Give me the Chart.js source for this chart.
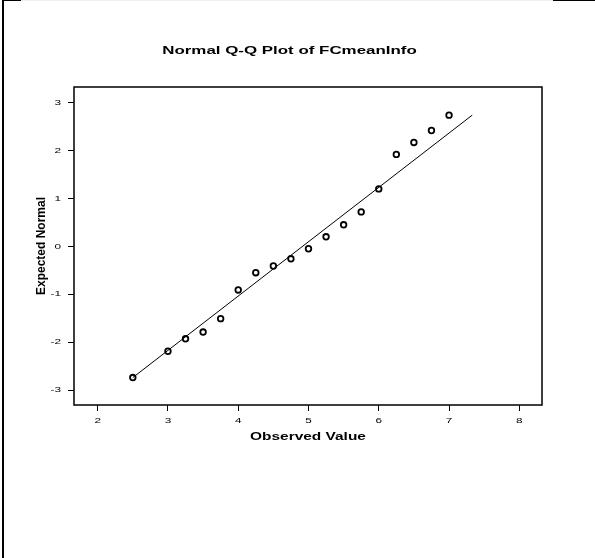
<!DOCTYPE html>
<html>
<head>
<meta charset="utf-8">
<title>Normal Q-Q Plot of FCmeanInfo</title>
<script src="https://cdn.jsdelivr.net/npm/chart.js@4.4.1/dist/chart.umd.min.js"></script>
<style>
  html, body { margin: 0; padding: 0; background: #fff; }
  #wrap { position: relative; width: 595px; height: 558px; overflow: hidden; background: #fff; }
  #qq { position: absolute; left: 0; top: 0; }
  .rule { position: absolute; background: #000; }
</style>
</head>
<body>
<div id="wrap">
  <canvas id="qq" width="595" height="558"></canvas>
  <div class="rule" style="left:2px;top:0;width:2px;height:558px"></div>
  <div class="rule" style="left:2px;top:0;width:19px;height:1px"></div>
  <div class="rule" style="left:21px;top:0;width:532px;height:1px;background:#f0f0f0"></div>
  <div class="rule" style="left:553px;top:0;width:42px;height:1px"></div>
</div>
<script>
// Text
const chartTitle = 'Normal Q-Q Plot of FCmeanInfo';
const xAxisTitle = 'Observed Value';
const yAxisTitle = 'Expected Normal';

// Observed values and their expected normal quantiles
const observedValues = [2.5, 3.0, 3.25, 3.5, 3.75, 4.0, 4.25, 4.5, 4.75, 5.0, 5.25, 5.5, 5.75, 6.0, 6.25, 6.5, 6.75, 7.0];
const expectedNormal = [-2.74, -2.19, -1.93, -1.79, -1.51, -0.91, -0.55, -0.41, -0.26, -0.05, 0.20, 0.45, 0.72, 1.20, 1.92, 2.17, 2.42, 2.74];

// Reference line end points
const refLineX = [2.5, 7.33];
const refLineY = [-2.74, 2.74];

// Tick values
const xTickValues = [2, 3, 4, 5, 6, 7, 8];
const yTickValues = [-3, -2, -1, 0, 1, 2, 3];

const FONT = "'Liberation Sans', Arial, Helvetica, sans-serif";
const WIDEN = 1.47;

// Horizontal lettering is drawn extended; rotated text keeps normal proportions.
const wideLettering = {
  id: 'wideLettering',
  beforeDraw(chart) {
    const ctx = chart.ctx;
    if (ctx.__wide) return;
    const base = ctx.fillText;
    ctx.fillText = function (text, x, y, maxWidth) {
      const m = this.getTransform();
      if (Math.abs(m.b) > 1e-6 || Math.abs(m.c) > 1e-6) {
        return maxWidth === undefined ? base.call(this, text, x, y) : base.call(this, text, x, y, maxWidth);
      }
      this.save();
      this.translate(x, y);
      this.scale(WIDEN, 1);
      if (maxWidth === undefined) base.call(this, text, 0, 0);
      else base.call(this, text, 0, 0, maxWidth / WIDEN);
      this.restore();
    };
    ctx.__wide = true;
  }
};

// Frame around the plotting area
const plotFrame = {
  id: 'plotFrame',
  afterDatasetsDraw(chart) {
    const { ctx, chartArea: a } = chart;
    ctx.save();
    ctx.strokeStyle = '#000';
    ctx.lineWidth = 1.5;
    ctx.strokeRect(a.left, a.top, a.right - a.left, a.bottom - a.top);
    ctx.restore();
  }
};

const points = observedValues.map((x, i) => ({ x, y: expectedNormal[i] }));
const line = refLineX.map((x, i) => ({ x, y: refLineY[i] }));

new Chart(document.getElementById('qq'), {
  type: 'scatter',
  data: {
    datasets: [
      {
        data: points,
        pointStyle: 'circle',
        pointRadius: 2.8,
        pointBorderWidth: 1.8,
        pointBorderColor: '#000',
        pointBackgroundColor: 'rgba(0,0,0,0)',
        showLine: false
      },
      {
        data: line,
        showLine: true,
        borderColor: '#000',
        borderWidth: 1,
        pointRadius: 0,
        fill: false
      }
    ]
  },
  options: {
    responsive: false,
    animation: false,
    devicePixelRatio: 1,
    layout: { padding: { left: 37, right: 53, top: 0, bottom: 0 } },
    plugins: {
      legend: { display: false },
      tooltip: { enabled: false },
      title: {
        display: true,
        text: chartTitle,
        color: '#000',
        font: { family: FONT, size: 11.5, weight: 'bold' },
        padding: { top: 43.6, bottom: 29.6 }
      }
    },
    scales: {
      x: {
        type: 'linear',
        position: 'bottom',
        min: 1.663,
        max: 8.323,
        afterBuildTicks: s => { s.ticks = xTickValues.map(v => ({ value: v })); },
        afterFit: s => { s.height = 153; },
        grid: { drawOnChartArea: false, drawTicks: true, tickLength: 6, color: '#000', tickColor: '#000', lineWidth: 1 },
        border: { display: false },
        ticks: {
          color: '#000',
          font: { family: FONT, size: 8 },
          padding: 5,
          maxRotation: 0,
          autoSkip: false,
          callback: v => String(v)
        },
        title: {
          display: true,
          text: xAxisTitle,
          color: '#000',
          font: { family: FONT, size: 10.5, weight: 'bold' },
          padding: { top: 0, bottom: 114.7 }
        }
      },
      y: {
        type: 'linear',
        position: 'left',
        min: -3.313,
        max: 3.328,
        afterBuildTicks: s => { s.ticks = yTickValues.map(v => ({ value: v })); },
        afterFit: s => { s.width = 37; },
        grid: { drawOnChartArea: false, drawTicks: true, tickLength: 6, color: '#000', tickColor: '#000', lineWidth: 1 },
        border: { display: false },
        ticks: {
          color: '#000',
          font: { family: FONT, size: 8 },
          padding: 7,
          autoSkip: false,
          callback: v => String(v)
        },
        title: {
          display: true,
          text: yAxisTitle,
          color: '#000',
          font: { family: FONT, size: 12, weight: 'bold', lineHeight: 0.8 },
          padding: 0
        }
      }
    }
  },
  plugins: [wideLettering, plotFrame]
});
</script>
</body>
</html>
